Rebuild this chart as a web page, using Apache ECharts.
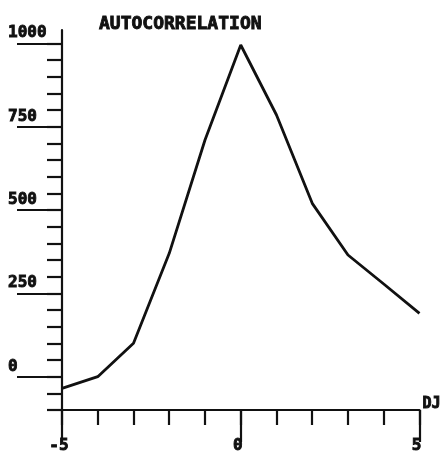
<!DOCTYPE html>
<html>
<head>
<meta charset="utf-8">
<script src="https://cdn.jsdelivr.net/npm/echarts@6/dist/echarts.min.js"></script>
<style>html,body{margin:0;padding:0;background:#fff}#c{width:444px;height:457px}</style>
</head>
<body>
<div id="c"></div>
<script>
const titleText = 'AUTOCORRELATION';
const xName = 'DJ';
const lags = [-5, -4, -3, -2, -1, 0, 1, 2, 3, 4, 5];
const autocorr = [-35, 0, 100, 370, 710, 995, 785, 520, 365, 278, 190];
const yMinorTicks = [-100,-50,0,50,100,150,200,250,300,350,400,450,500,550,600,650,700,750,800,850,900,950,1000];
const yMajorTicks = [0, 250, 500, 750, 1000];
const xMinorTicks = [-5, -4, -3, -2, -1, 0, 1, 2, 3, 4, 5];
const xMajorTicks = [-5, 0, 5];

const FONT = '"DejaVu Sans Mono", monospace';
const INK = '#111';
const chart = echarts.init(document.getElementById('c'), null, {renderer: 'canvas'});
const grid = {left: 62, right: 24, top: 30, bottom: 47};
const plain = v => String(v);
const heavy = {textBorderColor: INK, textBorderWidth: 0.9};
chart.setOption({
  animation: false,
  backgroundColor: '#fff',
  title: {
    text: titleText, left: 94, top: 10,
    textStyle: Object.assign({fontFamily: FONT, fontSize: 18, fontWeight: 'bold', color: INK}, heavy)
  },
  grid: grid,
  xAxis: [{
    type: 'value', min: -5, max: 5, position: 'bottom',
    name: xName, nameLocation: 'end', nameGap: 3,
    nameTextStyle: Object.assign({fontFamily: FONT, fontSize: 15, fontWeight: 'bold', color: INK, verticalAlign: 'bottom', lineHeight: 11}, heavy),
    axisLine: {show: true, onZero: false, lineStyle: {color: INK, width: 2.2}},
    axisTick: {show: true, customValues: xMinorTicks, length: 15, inside: false, lineStyle: {color: INK, width: 2.2}},
    axisLabel: {show: false},
    splitLine: {show: false}
  }, {
    type: 'value', min: -5, max: 5, position: 'bottom', offset: 0,
    axisLine: {show: false, onZero: false},
    axisTick: {show: true, customValues: xMajorTicks, length: 32, lineStyle: {color: INK, width: 2.2}},
    axisLabel: Object.assign({show: true, customValues: xMajorTicks, margin: 28, verticalAlign: 'top',
      padding: [0, 6, 0, 0], formatter: plain,
      fontFamily: FONT, fontSize: 16, fontWeight: 'bold', color: INK}, heavy),
    splitLine: {show: false}
  }],
  yAxis: [{
    type: 'value', min: -100, max: 1040, position: 'left',
    axisLine: {show: true, onZero: false, lineStyle: {color: INK, width: 2.2}},
    axisTick: {show: true, customValues: yMinorTicks, length: 15, lineStyle: {color: INK, width: 2.2}},
    axisLabel: {show: false},
    splitLine: {show: false}
  }, {
    type: 'value', min: -100, max: 1040, position: 'left', offset: 0,
    axisLine: {show: false, onZero: false},
    axisTick: {show: true, customValues: yMajorTicks, length: 45, lineStyle: {color: INK, width: 2.2}},
    axisLabel: Object.assign({show: true, customValues: yMajorTicks, margin: 54, align: 'left', verticalAlign: 'bottom',
      padding: [0, 0, 2, 0], formatter: plain,
      fontFamily: FONT, fontSize: 16, fontWeight: 'bold', color: INK}, heavy),
    splitLine: {show: false}
  }],
  series: [{
    type: 'line', xAxisIndex: 0, yAxisIndex: 0,
    data: lags.map((x, i) => [x, autocorr[i]]),
    showSymbol: false, smooth: false,
    lineStyle: {color: INK, width: 2.8}
  }]
});
</script>
</body>
</html>
